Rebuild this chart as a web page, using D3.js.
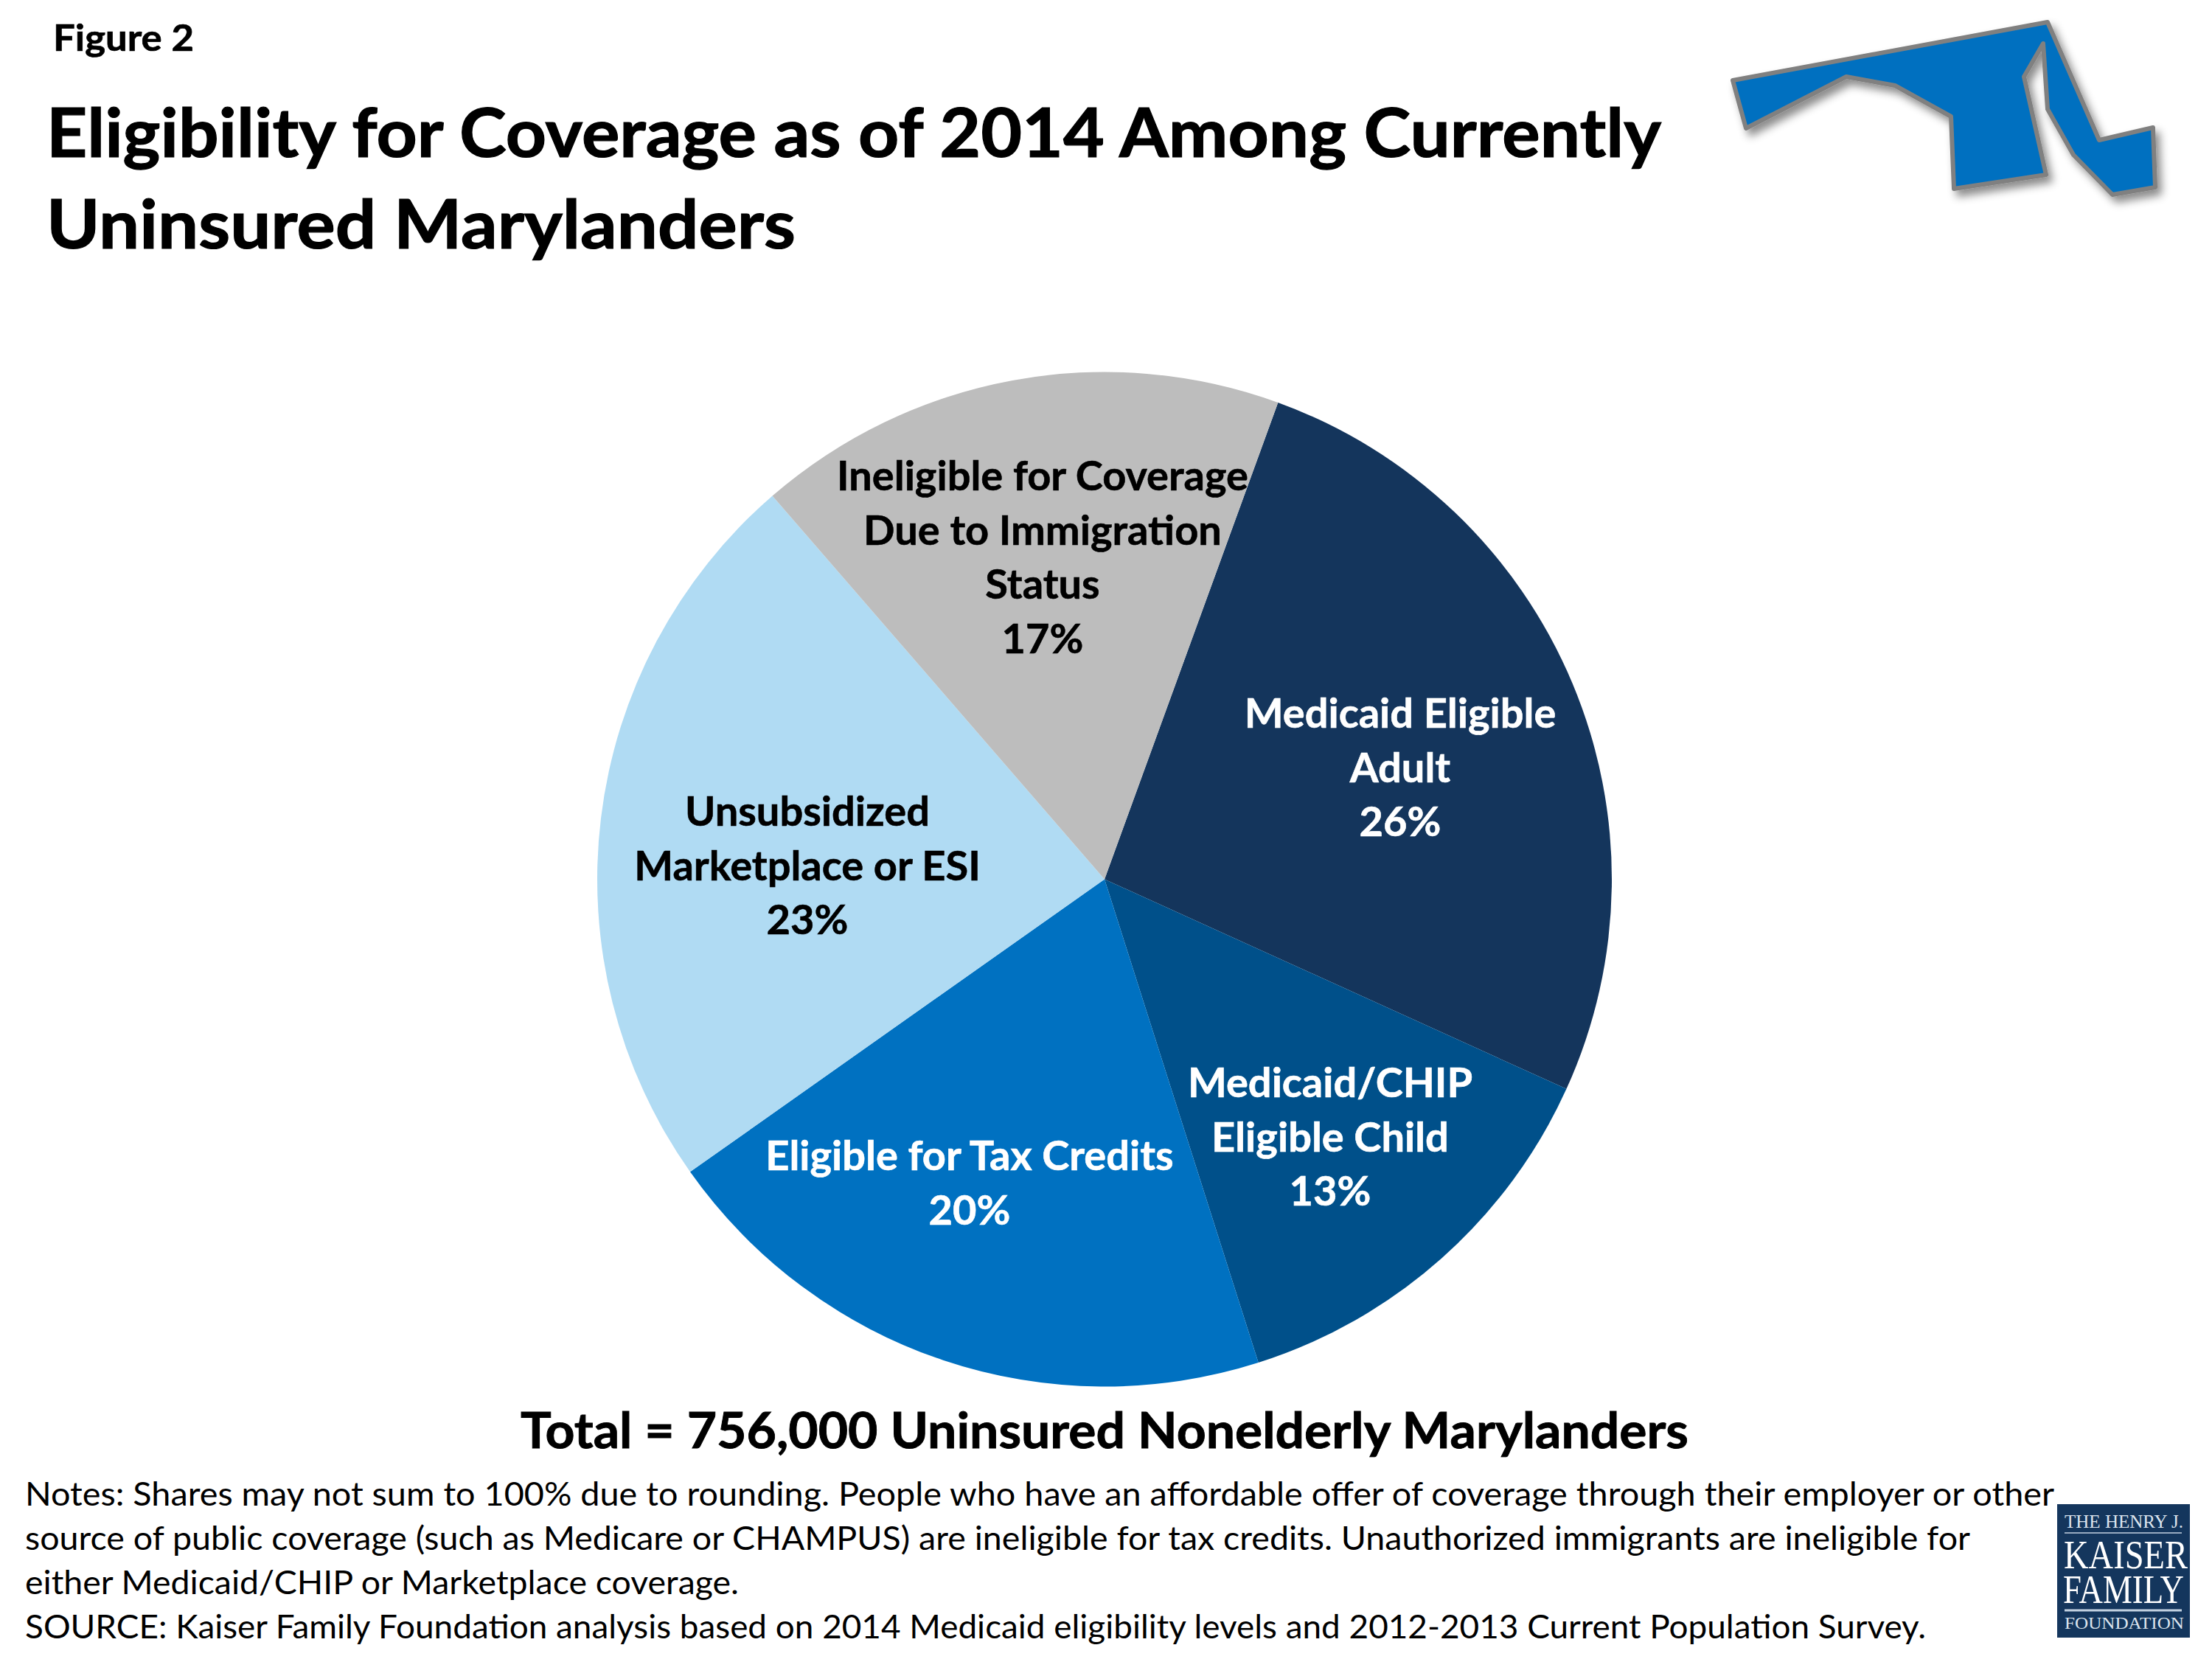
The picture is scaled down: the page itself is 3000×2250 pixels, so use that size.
<!DOCTYPE html>
<html>
<head>
<meta charset="utf-8">
<script src="https://cdn.jsdelivr.net/npm/d3@7"></script>
<style>
  html, body { margin: 0; padding: 0; background: #fff; }
  svg { display: block; }
  text { font-family: "Lato", "Open Sans", sans-serif; }
</style>
</head>
<body>
<svg id="chart" width="3000" height="2250"></svg>
<script>
// slice shares (labels round to whole percents)
const categories = [
  ["Medicaid Eligible", "Adult"],
  ["Medicaid/CHIP", "Eligible Child"],
  ["Eligible for Tax Credits"],
  ["Unsubsidized", "Marketplace or ESI"],
  ["Ineligible for Coverage", "Due to Immigration", "Status"]
];
const shares = [26.2, 13.3, 20.1, 23.4, 16.9];
const sliceColors = ["#14355C", "#00508A", "#0071C1", "#B0DBF3", "#BDBDBD"];
const labelColors = ["#fff", "#fff", "#fff", "#000", "#000"];

const figureLabel = "Figure 2";
const titleLines = ["Eligibility for Coverage as of 2014 Among Currently", "Uninsured Marylanders"];
const totalLabel = "Total = 756,000 Uninsured Nonelderly Marylanders";
const notesLines = [
  "Notes: Shares may not sum to 100% due to rounding. People who have an affordable offer of coverage through their employer or other",
  "source of public coverage (such as Medicare or CHAMPUS) are ineligible for tax credits. Unauthorized immigrants are ineligible for",
  "either Medicaid/CHIP or Marketplace coverage.",
  "SOURCE: Kaiser Family Foundation analysis based on 2014 Medicaid eligibility levels and 2012-2013 Current Population Survey."
];

// layout, kept apart from the data
const cx = 1498, cy = 1192.5, radius = 688;
const labelPos = [[1899, 987], [1804, 1488], [1315, 1587], [1095, 1120], [1414, 665]];
const titleWidths = [2190, 1016];
const noteWidths = [2752, 2638, 968, 2578];

// state outline, decoration only
const mapOutline = [[2350,109],[2777,30],[2847,190],[2920,173],[2923,254],[2865,264],[2812,210],[2777,148],[2771,59],[2745,104],[2775,237],[2650,256],[2646,158],[2570,116],[2504,104],[2368,174]];

const svg = d3.select("#chart");

const defs = svg.append("defs");
const shadow = defs.append("filter").attr("id", "shadow")
  .attr("x", "-10%").attr("y", "-10%").attr("width", "125%").attr("height", "130%");
shadow.append("feDropShadow")
  .attr("dx", 6).attr("dy", 8).attr("stdDeviation", 6)
  .attr("flood-color", "#000").attr("flood-opacity", 0.45);

// header
svg.append("text").attr("x", 72).attr("y", 69)
  .attr("font-size", 50).attr("font-weight", 700)
  .attr("textLength", 191).attr("lengthAdjust", "spacingAndGlyphs")
  .attr("stroke", "#000").attr("stroke-width", 0.7).text(figureLabel);
svg.selectAll("text.title").data(titleLines).join("text").attr("class", "title")
  .attr("x", 63).attr("y", (d, i) => 212.5 + i * 124.8)
  .attr("font-size", 92).attr("font-weight", 700)
  .attr("textLength", (d, i) => titleWidths[i]).attr("lengthAdjust", "spacingAndGlyphs")
  .attr("stroke", "#000").attr("stroke-width", 1.2).text(d => d);

// map
svg.append("path")
  .attr("d", d3.line()(mapOutline) + "Z")
  .attr("fill", "#0070C0").attr("stroke", "#808080").attr("stroke-width", 6)
  .attr("stroke-linejoin", "round").attr("filter", "url(#shadow)");

// pie
const pie = d3.pie().sort(null).startAngle(20 * Math.PI / 180).endAngle(380 * Math.PI / 180);
const arc = d3.arc().innerRadius(0).outerRadius(radius);
const slices = svg.append("g").attr("transform", `translate(${cx},${cy})`);
slices.selectAll("path").data(pie(shares)).join("path")
  .attr("d", arc).attr("fill", (d, i) => sliceColors[i]);

// slice labels
const lineH = 73.6;
const labels = svg.append("g").attr("font-size", 56).attr("font-weight", 700).attr("text-anchor", "middle");
categories.forEach((lines, i) => {
  const all = lines.concat(d3.format(".0f")(shares[i]) + "%");
  labels.selectAll(null).data(all).join("text")
    .attr("x", labelPos[i][0])
    .attr("y", (d, j) => labelPos[i][1] + j * lineH)
    .attr("fill", labelColors[i]).attr("stroke", labelColors[i]).attr("stroke-width", 0.6)
    .text(d => d);
});

// total and notes
svg.append("text").attr("x", 706).attr("y", 1964)
  .attr("font-size", 67).attr("font-weight", 700)
  .attr("textLength", 1584).attr("lengthAdjust", "spacingAndGlyphs")
  .attr("stroke", "#000").attr("stroke-width", 0.9).text(totalLabel);
svg.selectAll("text.note").data(notesLines).join("text").attr("class", "note")
  .attr("x", 34).attr("y", (d, i) => 2041.5 + i * 60)
  .attr("font-size", 45)
  .attr("textLength", (d, i) => noteWidths[i]).attr("lengthAdjust", "spacingAndGlyphs")
  .text(d => d);

// logo
const logo = svg.append("g").attr("transform", "translate(2790,2040)");
logo.append("rect").attr("width", 180).attr("height", 181).attr("fill", "#14365D");
logo.selectAll("text").data([
  ["THE HENRY J.", 10, 31.5, 25, 161, "#DCE4EE"],
  ["KAISER", 9, 86.5, 54, 168, "#fff"],
  ["FAMILY", 8, 134, 54, 164, "#fff"],
  ["FOUNDATION", 10, 169, 24, 162, "#DCE4EE"]
]).join("text").attr("x", d => d[1]).attr("y", d => d[2])
  .attr("fill", d => d[5]).attr("font-size", d => d[3])
  .attr("textLength", d => d[4]).attr("lengthAdjust", "spacingAndGlyphs")
  .style("font-family", "'Liberation Serif', serif").text(d => d[0]);
logo.selectAll("line").data([[39, 1.5], [144, 3]]).join("line")
  .attr("x1", 10).attr("x2", 169).attr("y1", d => d[0]).attr("y2", d => d[0])
  .attr("stroke", "#C4D2E2").attr("stroke-width", d => d[1]);
</script>
</body>
</html>
